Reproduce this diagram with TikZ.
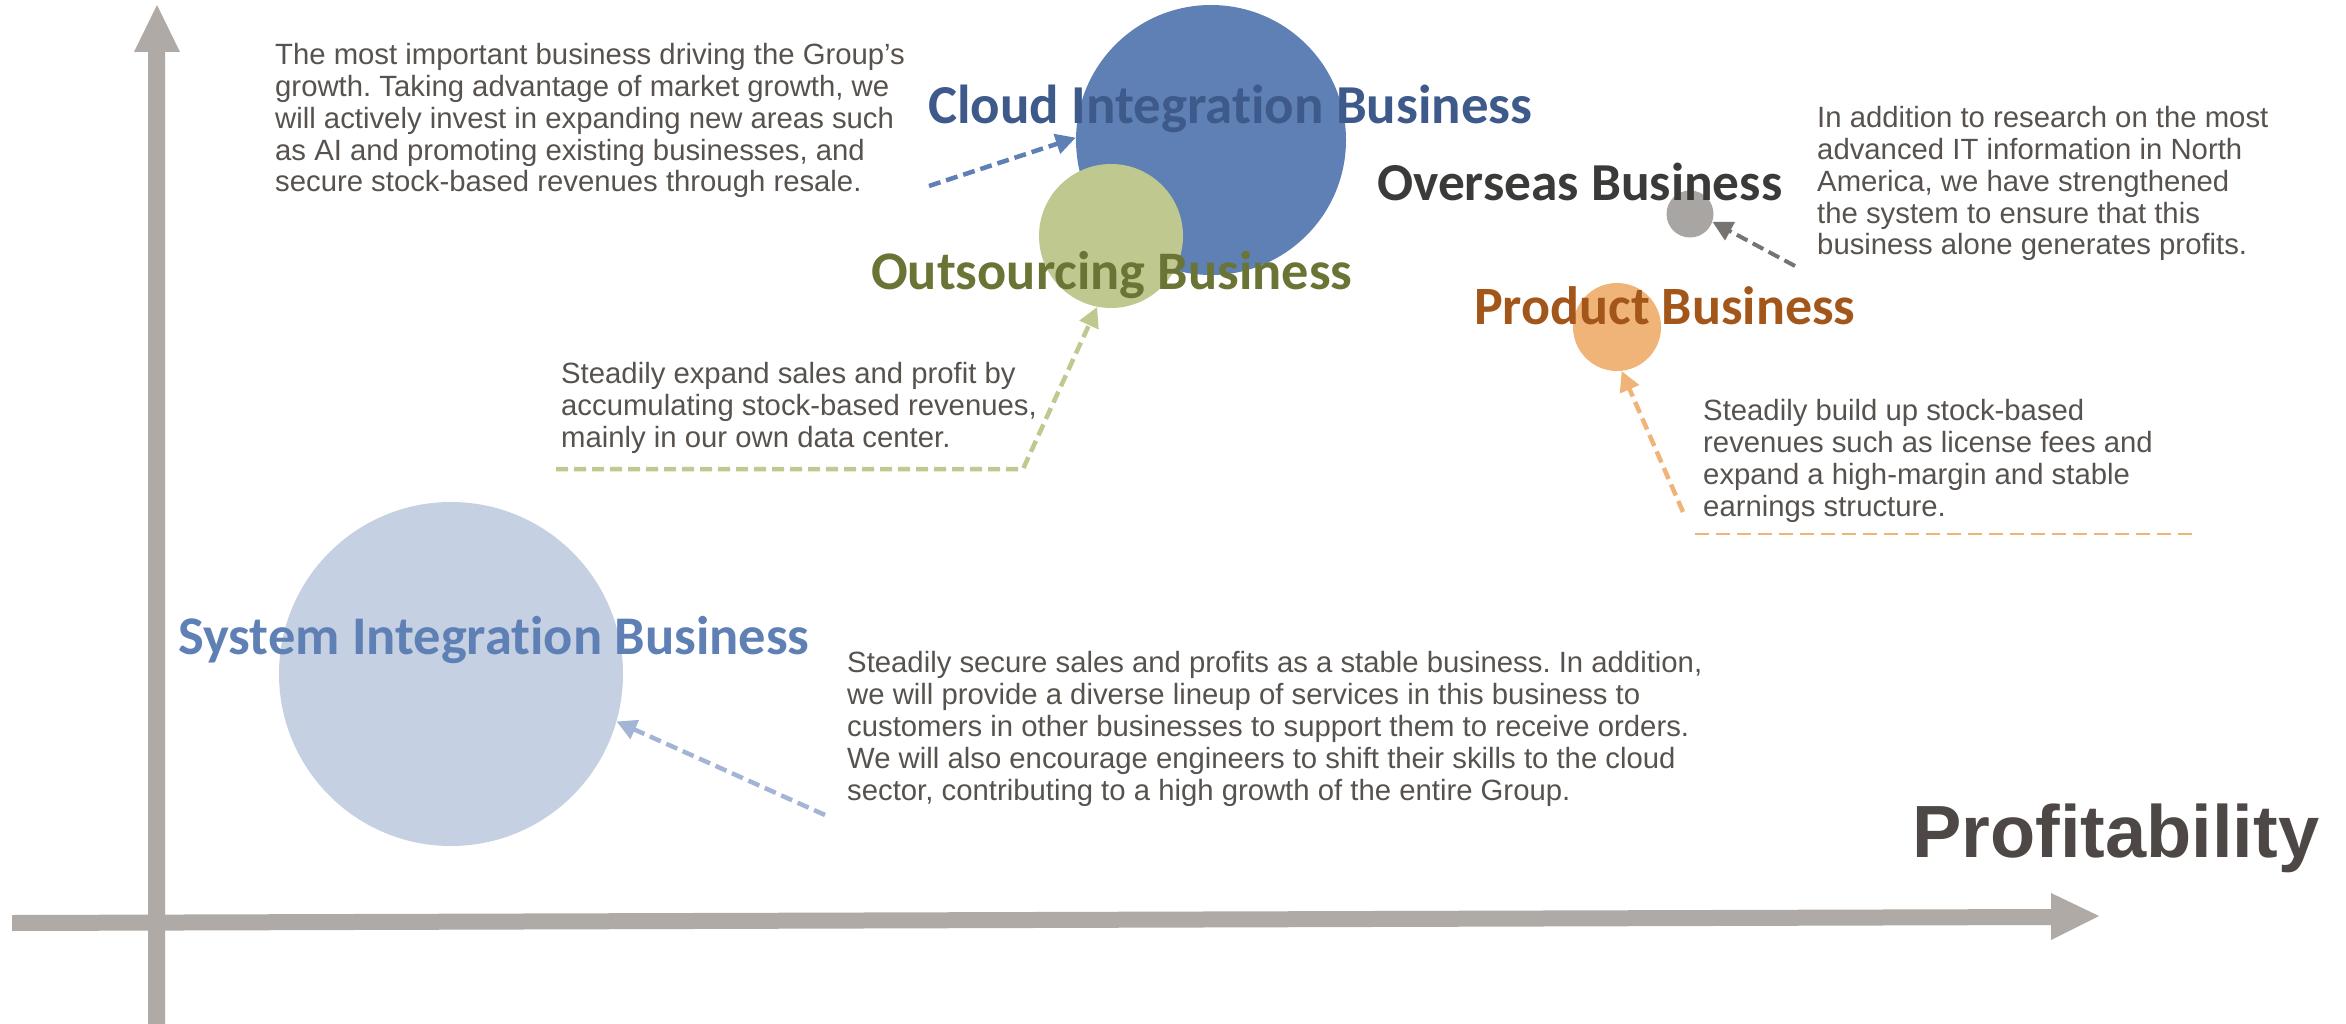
\documentclass[tikz,border=0pt]{standalone}
\usepackage{fontspec}
\setmainfont{Liberation Sans}
\newfontfamily\lblfont[Ligatures=NoCommon]{Carlito}
\usetikzlibrary{arrows.meta}
\frenchspacing
\definecolor{axisgray}{HTML}{AFAAA5}
\definecolor{cloudfill}{HTML}{5F80B4}
\definecolor{cloudtxt}{HTML}{3D5A8A}
\definecolor{outfill}{HTML}{BFC98F}
\definecolor{outtxt}{HTML}{6A7535}
\definecolor{ovsfill}{HTML}{A8A5A2}
\definecolor{ovstxt}{HTML}{3A3A38}
\definecolor{ovsarrow}{HTML}{767370}
\definecolor{prodfill}{HTML}{F0B478}
\definecolor{prodtxt}{HTML}{A3561A}
\definecolor{sifill}{HTML}{C5D1E3}
\definecolor{sitxt}{HTML}{5F80B4}
\definecolor{siarrow}{HTML}{A3B5D5}
\definecolor{desctxt}{HTML}{57524E}
\definecolor{proftxt}{HTML}{4D4845}
\newcommand\lblbox[2]{\resizebox{#1}{!}{\lblfont\bfseries #2}}
\begin{document}
\begin{tikzpicture}[x=1pt,y=-1pt,
  bubble/.style={circle, inner sep=0pt, draw=none},
  lbl/.style={anchor=base west, inner sep=0pt},
  desc/.style={anchor=base west, inner sep=0pt, align=left, text=desctxt, font=\fontsize{29.3}{31.8}\selectfont\frenchspacing},
  pointer/.style={dash pattern=on 12pt off 6pt, line width=4.5pt, -{Triangle[length=20pt,width=20pt]}},
]
\useasboundingbox (0,0) rectangle (2346,1024);
% axes
\fill[axisgray] (148,1024) -- (148,52) -- (134,52) -- (157,5) -- (180,52) -- (165,52) -- (165,1024) -- cycle;
\fill[axisgray] (12,915) -- (2051,909) -- (2051,893) -- (2099,916) -- (2051,940) -- (2051,925) -- (12,931) -- cycle;
% bubbles
\node[bubble, fill=sifill, minimum size=344pt] (si) at (451,674) {};
\node[bubble, fill=cloudfill, minimum size=270pt] (cloud) at (1211,140) {};
\node[bubble, fill=outfill, minimum size=144pt] (out) at (1111,236) {};
\node[bubble, fill=ovsfill, minimum size=47pt] (ovs) at (1690,214) {};
\node[bubble, fill=prodfill, minimum size=88pt] (prod) at (1617,327) {};
% labels
\node[lbl, text=cloudtxt] (cloudlbl) at (928,124) {\lblbox{604pt}{Cloud Integration Business}};
\node[lbl, text=outtxt] (outlbl) at (871,290) {\lblbox{481pt}{Outsourcing Business}};
\node[lbl, text=ovstxt] (ovslbl) at (1377,201) {\lblbox{405pt}{Overseas Business}};
\node[lbl, text=prodtxt] (prodlbl) at (1474,325) {\lblbox{381pt}{Product Business}};
\node[lbl, text=sitxt] (silbl) at (178,654) {\lblbox{631pt}{System Integration Business}};
\node[lbl, text=proftxt, font=\bfseries] (prof) at (1912,857) {\resizebox{407pt}{!}{Profitability}};
% descriptions (anchored at the baseline of their last line)
\node[desc] (clouddesc) at (275,192) {The most important business driving the Group’s\\growth. Taking advantage of market growth, we\\will actively invest in expanding new areas such\\as AI and promoting existing businesses, and\\secure stock-based revenues through resale.};
\node[desc] (ovsdesc) at (1817,255) {In addition to research on the most\\advanced IT information in North\\America, we have strengthened\\the system to ensure that this\\business alone generates profits.};
\node[desc] (outdesc) at (561,447) {Steadily expand sales and profit by\\accumulating stock-based revenues,\\mainly in our own data center.};
\node[desc] (proddesc) at (1703,516) {Steadily build up stock-based\\revenues such as license fees and\\expand a high-margin and stable\\earnings structure.};
\node[desc] (sidesc) at (847,800) {Steadily secure sales and profits as a stable business. In addition,\\we will provide a diverse lineup of services in this business to\\customers in other businesses to support them to receive orders.\\We will also encourage engineers to shift their skills to the cloud\\sector, contributing to a high growth of the entire Group.};
% connectors
\coordinate (cloudtail) at (929,186);
\draw[pointer, draw=cloudfill] (cloudtail) -- (cloud.179);
\coordinate (outstart) at (556,469);
\coordinate (outbend) at (1023,469);
\draw[pointer, draw=outfill] (outstart) -- (outbend) -- (out.259);
\coordinate (ovstail) at (1795,266);
\draw[pointer, draw=ovsarrow, line width=4pt] (ovstail) -- (ovs.341);
\coordinate (prodtail) at (1683,512);
\draw[pointer, draw=prodfill] (prodtail) -- (prod.276);
\coordinate (sitail) at (825,815);
\draw[pointer, draw=siarrow] (sitail) -- (si.344);
\coordinate (prodlineA) at (1695,534);
\coordinate (prodlineB) at (2195,534);
\draw[prodfill, line width=2pt, dash pattern=on 14pt off 7pt] (prodlineA) -- (prodlineB);
\end{tikzpicture}
\end{document}
